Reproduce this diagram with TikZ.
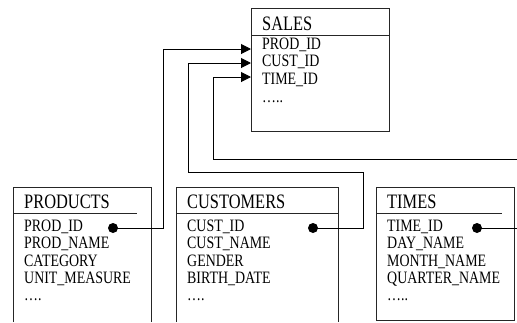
\documentclass[tikz,border=0pt]{standalone}
\usepackage{fontspec}
\setmainfont{Liberation Serif}[FakeStretch=0.8]
\usetikzlibrary{arrows.meta}
\tikzset{
  boxline/.style={line width=1pt, draw=black!85},
  conn/.style={line width=1pt, draw=black},
  arr/.style={conn, -{Triangle[length=10pt,width=10pt]}},
  title/.style={anchor=base west, inner sep=0pt, font=\fontsize{20.5}{20}\selectfont},
  row/.style={anchor=base west, inner sep=0pt, font=\fontsize{17.4}{17}\selectfont},
  dotm/.style={circle, fill=black, inner sep=0pt, minimum size=10pt}
}
\begin{document}
\begin{tikzpicture}[x=1pt,y=-1pt]
\useasboundingbox (0,0) rectangle (517,322);
% SALES
\draw[boxline] (251,8) rectangle (389,131);
\draw[boxline] (251,35) -- (389,35);
\node[title] (st) at (262,30) {SALES};
\node[row] (s1) at (262,49) {PROD\_ID};
\node[row] (s2) at (262,66.5) {CUST\_ID};
\node[row] (s3) at (262,84) {TIME\_ID};
\node[row] (s4) at (262,102) {…..};
\coordinate (sa) at (251,49);
\coordinate (sb) at (251,63);
\coordinate (sc) at (251,77);
% PRODUCTS
\draw[boxline] (13,322) -- (13,187) -- (151,187) -- (151,322);
\draw[boxline] (13,213) -- (137,213);
\node[title] (pt) at (24,208) {PRODUCTS};
\node[row] (p1) at (24,231) {PROD\_ID};
\node[row] (p2) at (24,248.5) {PROD\_NAME};
\node[row] (p3) at (24,266) {CATEGORY};
\node[row] (p4) at (24,283.5) {UNIT\_MEASURE};
\node[row] (p5) at (24,300) {….};
\node[dotm] (pd) at (113,228) {};
% CUSTOMERS
\draw[boxline] (176,322) -- (176,187) -- (338,187) -- (338,322);
\draw[boxline] (176,213) -- (338,213);
\node[title] (ct) at (187,208) {CUSTOMERS};
\node[row] (c1) at (187,231) {CUST\_ID};
\node[row] (c2) at (187,248.5) {CUST\_NAME};
\node[row] (c3) at (187,266) {GENDER};
\node[row] (c4) at (187,283.5) {BIRTH\_DATE};
\node[row] (c5) at (187,300) {….};
\node[dotm] (cd) at (313,228) {};
% TIMES
\draw[boxline] (376,187) rectangle (514,320);
\draw[boxline] (376,213) -- (502,213);
\node[title] (tt) at (387,208) {TIMES};
\node[row] (t1) at (387,231) {TIME\_ID};
\node[row] (t2) at (387,248.5) {DAY\_NAME};
\node[row] (t3) at (387,266) {MONTH\_NAME};
\node[row] (t4) at (387,283.5) {QUARTER\_NAME};
\node[row] (t5) at (387,300) {…..};
\node[dotm] (td) at (477,228) {};
% connectors
\draw[arr] (pd.center) -- (163,228) -- (163,49) -- (sa);
\draw[arr] (cd.center) -- (363,228) -- (363,172) -- (188,172) -- (188,63) -- (sb);
\coordinate (te1) at (517,228);
\coordinate (te2) at (517,159);
\draw[conn] (td.center) -- (te1);
\draw[arr] (te2) -- (213,159) -- (213,77) -- (sc);
\end{tikzpicture}
\end{document}
